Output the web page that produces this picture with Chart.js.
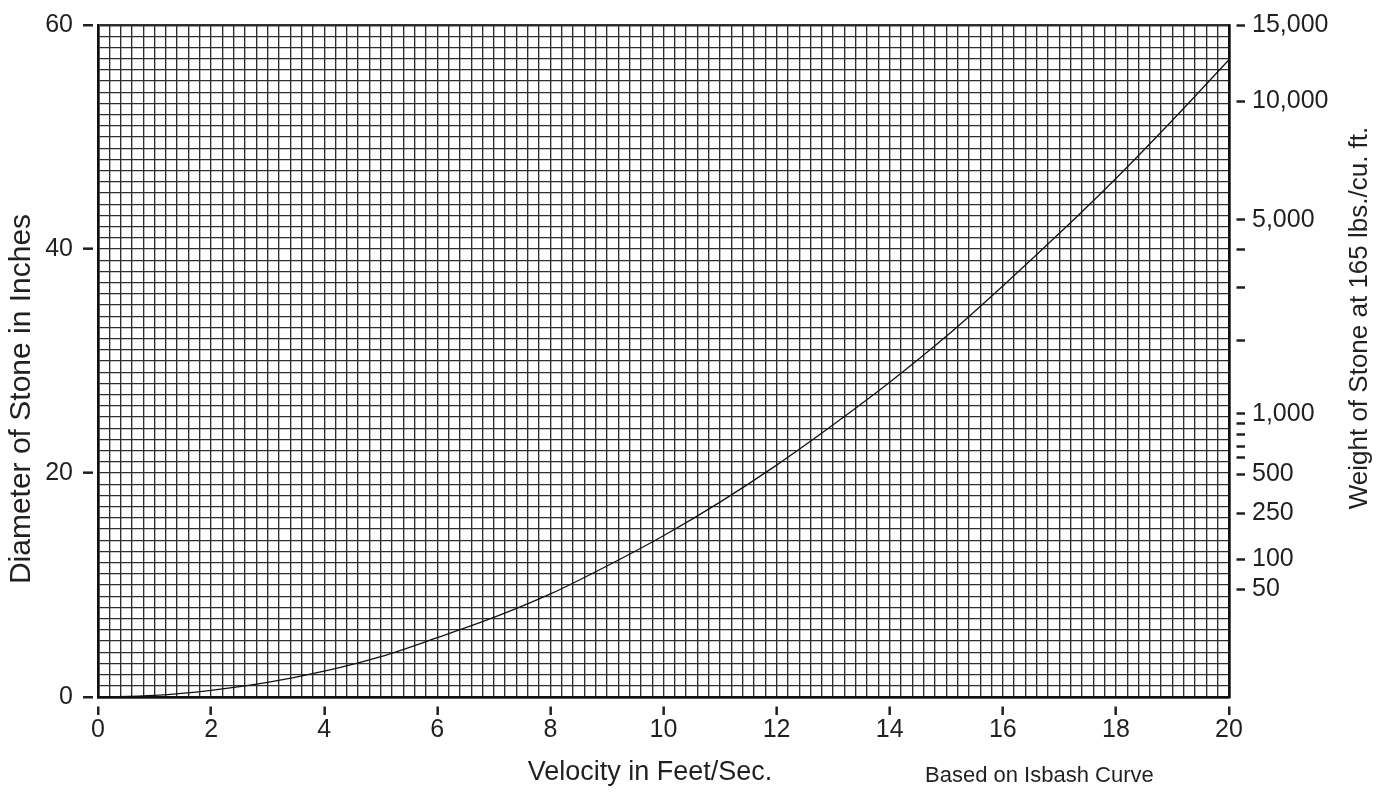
<!DOCTYPE html>
<html>
<head>
<meta charset="utf-8">
<script src="https://cdn.jsdelivr.net/npm/chart.js@4.4.1/dist/chart.umd.min.js"></script>
<style>
  html, body { margin: 0; padding: 0; background: #ffffff; }
  #wrap { width: 1391px; height: 794px; position: relative; }
</style>
</head>
<body>
<div id="wrap"><canvas id="c"></canvas></div>
<script>
// ---- data ----
const velocity = [0, 1, 2, 3, 4, 5, 6, 7, 8, 9, 10, 11, 12, 13, 14, 15, 16, 17, 18, 19, 20];
const diameterIn = [0, 0.15, 0.6, 1.3, 2.3, 3.6, 5.3, 7.1, 9.2, 11.7, 14.4, 17.4, 20.7, 24.3, 28.1, 32.2, 36.7, 41.4, 46.3, 51.5, 56.9];
const xLabelTicks = [0, 2, 4, 6, 8, 10, 12, 14, 16, 18, 20];
const yLabelTicks = [0, 20, 40, 60];
const weightTickDiameters = [60, 53.2, 42.6, 40.0, 36.6, 31.8, 25.3, 24.4, 23.4, 22.4, 21.4, 19.9, 16.4, 12.3, 9.6];
const weightTickLabels = ['15,000', '10,000', '5,000', '', '', '', '1,000', '', '', '', '', '500', '250', '100', '50'];
const xTitle = 'Velocity in Feet/Sec.';
const yTitle = 'Diameter of Stone in Inches';
const y2Title = 'Weight of Stone at 165 lbs./cu. ft.';
const noteText = 'Based on Isbash Curve';

const INK = '#231f20';
const GRID = '#2e2e2e';
const FONT = '"Liberation Sans", Arial, sans-serif';

function isIn(list, v) { return list.some(t => Math.abs(t - v) < 1e-6); }

function drawText(ctx, text, x, y, size, rot, align) {
  ctx.save();
  ctx.fillStyle = INK;
  ctx.font = size + 'px ' + FONT;
  ctx.textAlign = align || 'center';
  ctx.textBaseline = 'middle';
  ctx.translate(x, y);
  if (rot) ctx.rotate(rot);
  ctx.fillText(text, 0, 0);
  ctx.restore();
}

const extraText = {
  id: 'extraText',
  afterDraw(chart) {
    const ctx = chart.ctx;
    drawText(ctx, yTitle, 22, 399, 30, -Math.PI / 2);
    drawText(ctx, y2Title, 1360, 318, 26, -Math.PI / 2);
    drawText(ctx, xTitle, 650, 773, 27, 0);
    drawText(ctx, noteText, 925, 776, 22, 0, 'left');
  }
};

const points = velocity.map((v, i) => ({ x: v, y: diameterIn[i] }));

new Chart(document.getElementById('c'), {
  type: 'line',
  data: {
    datasets: [{
      data: points,
      borderColor: '#111111',
      borderWidth: 1.3,
      pointRadius: 0,
      cubicInterpolationMode: 'monotone',
      fill: false,
      xAxisID: 'x',
      yAxisID: 'y'
    }]
  },
  options: {
    responsive: true,
    maintainAspectRatio: false,
    animation: false,
    layout: { padding: { top: 25, left: 0, right: 0, bottom: 0 } },
    plugins: { legend: { display: false }, tooltip: { enabled: false } },
    scales: {
      x: {
        type: 'linear',
        position: 'bottom',
        min: 0, max: 20,
        afterFit(s) { s.height = 97; },
        ticks: {
          stepSize: 0.2,
          autoSkip: false,
          maxRotation: 0,
          padding: 0,
          color: INK,
          font: { size: 25, family: FONT },
          callback(v) { return isIn(xLabelTicks, v) ? String(Math.round(v)) : ''; }
        },
        grid: {
          color: GRID,
          lineWidth: ctx => (ctx.tick && (Math.abs(ctx.tick.value - 20) < 1e-6 || Math.abs(ctx.tick.value) < 1e-6)) ? 2.5 : 1.35,
          drawTicks: true,
          tickLength: 18,
          tickWidth: 2.5,
          tickColor: ctx => (ctx.tick && isIn(xLabelTicks, ctx.tick.value)) ? INK : 'rgba(0,0,0,0)',
          tickBorderDash: [0, 8, 10, 100]
        },
        border: { display: true, color: '#111', width: 2.5 },
        title: { display: false }
      },
      y: {
        type: 'linear',
        position: 'left',
        min: 0, max: 60,
        afterFit(s) { s.width = 98; },
        ticks: {
          stepSize: 1,
          autoSkip: false,
          padding: 10,
          color: INK,
          font: { size: 25, family: FONT },
          callback(v) { return isIn(yLabelTicks, v) ? String(Math.round(v)) : ''; }
        },
        grid: {
          color: GRID,
          lineWidth: ctx => (ctx.tick && (Math.abs(ctx.tick.value - 60) < 1e-6 || Math.abs(ctx.tick.value) < 1e-6)) ? 2.5 : 1.35,
          drawTicks: true,
          tickLength: 15,
          tickWidth: 2.5,
          tickColor: ctx => (ctx.tick && isIn(yLabelTicks, ctx.tick.value)) ? INK : 'rgba(0,0,0,0)',
          tickBorderDash: [10, 5]
        },
        border: { display: true, color: '#111', width: 2.5 },
        title: { display: false }
      },
      y2: {
        type: 'linear',
        position: 'right',
        min: 0, max: 60,
        afterFit(s) { s.width = 162; },
        afterBuildTicks(s) { s.ticks = weightTickDiameters.map(v => ({ value: v })); },
        ticks: {
          autoSkip: false,
          padding: 7,
          color: INK,
          font: { size: 25, family: FONT },
          callback(v, i) { return weightTickLabels[i]; }
        },
        grid: {
          drawOnChartArea: false,
          drawTicks: true,
          tickLength: 16,
          tickWidth: 2.5,
          tickColor: INK,
          tickBorderDash: [0, 6, 10, 100]
        },
        border: { display: true, color: '#111', width: 2.5 }
      }
    }
  },
  plugins: [extraText]
});
</script>
</body>
</html>
